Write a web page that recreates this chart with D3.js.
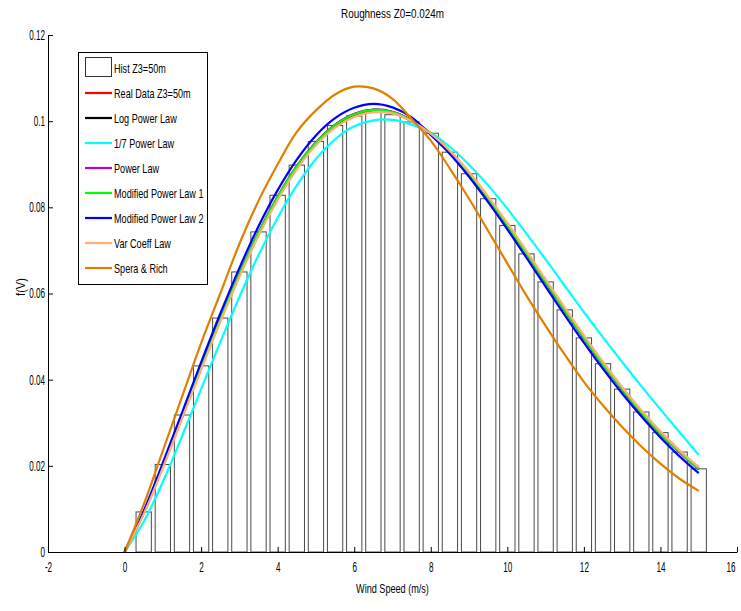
<!DOCTYPE html>
<html><head><meta charset="utf-8">
<script src="https://cdn.jsdelivr.net/npm/d3@7"></script>
<style>
body{margin:0;background:#fff;}
text{font-family:"Liberation Sans Narrow","Arial Narrow","Liberation Sans",Arial,sans-serif;}
</style></head>
<body>
<svg id="chart" width="741" height="611"></svg>
<script>
// ---- data ----
const title = "Roughness Z0=0.024m";
const xLabel = "Wind Speed (m/s)";
const yLabel = "f(V)";
const xTicks = [-2,0,2,4,6,8,10,12,14,16];
const xTickLabels = ["-2","0","2","4","6","8","10","12","14","16"];
const yTicks = [0,0.02,0.04,0.06,0.08,0.1,0.12];
const yTickLabels = ["0","0.02","0.04","0.06","0.08","0.1","0.12"];

const binCenters = [0.5,1,1.5,2,2.5,3,3.5,4,4.5,5,5.5,6,6.5,7,7.5,8,8.5,9,9.5,10,10.5,11,11.5,12,12.5,13,13.5,14,14.5,15];
const histValues = [0.0093,0.0203,0.0318,0.0432,0.0543,0.0650,0.0743,0.0828,0.0898,0.0953,0.0990,0.1012,0.1020,0.1015,0.0998,0.0972,0.0928,0.0878,0.0820,0.0758,0.0692,0.0627,0.0562,0.0497,0.0437,0.0378,0.0325,0.0277,0.0232,0.0193];

const speeds = [0,0.5,1,1.5,2,2.5,3,3.5,4,4.5,5,5.5,6,6.5,7,7.5,8,8.5,9,9.5,10,10.5,11,11.5,12,12.5,13,13.5,14,14.5,15];
const realData   = [0,0.0090,0.0198,0.0312,0.0427,0.0538,0.0642,0.0738,0.0821,0.0892,0.0948,0.0989,0.1014,0.1024,0.1019,0.1000,0.0970,0.0928,0.0878,0.0821,0.0759,0.0694,0.0628,0.0562,0.0498,0.0436,0.0379,0.0325,0.0276,0.0233,0.0194];
const logPower   = [0,0.0091,0.0199,0.0313,0.0428,0.0539,0.0644,0.0740,0.0823,0.0894,0.0950,0.0991,0.1016,0.1026,0.1021,0.1002,0.0971,0.0929,0.0878,0.0820,0.0758,0.0693,0.0627,0.0561,0.0497,0.0435,0.0378,0.0324,0.0275,0.0232,0.0193];
const seventhPower = [0,0.0070,0.0163,0.0268,0.0378,0.0487,0.0592,0.0689,0.0776,0.0851,0.0912,0.0958,0.0988,0.1002,0.1003,0.0992,0.0973,0.0940,0.0899,0.0851,0.0797,0.0739,0.0679,0.0618,0.0557,0.0498,0.0441,0.0385,0.0331,0.0278,0.0225];
const powerLaw   = [0,0.0092,0.0200,0.0315,0.0430,0.0541,0.0646,0.0742,0.0825,0.0896,0.0951,0.0992,0.1017,0.1027,0.1022,0.1002,0.0971,0.0928,0.0877,0.0819,0.0757,0.0692,0.0626,0.0560,0.0496,0.0434,0.0377,0.0323,0.0274,0.0231,0.0192];
const modPower1  = [0,0.0091,0.0199,0.0314,0.0429,0.0540,0.0645,0.0741,0.0824,0.0895,0.0950,0.0991,0.1016,0.1026,0.1021,0.1001,0.0971,0.0929,0.0878,0.0820,0.0758,0.0693,0.0627,0.0561,0.0497,0.0435,0.0378,0.0324,0.0275,0.0232,0.0193];
const modPower2  = [0,0.0095,0.0207,0.0323,0.0440,0.0553,0.0659,0.0756,0.0840,0.0911,0.0967,0.1007,0.1031,0.1040,0.1032,0.1009,0.0968,0.0924,0.0871,0.0812,0.0749,0.0683,0.0616,0.0550,0.0486,0.0425,0.0368,0.0315,0.0266,0.0222,0.0183];
const varCoeff   = [0,0.0088,0.0195,0.0309,0.0423,0.0534,0.0638,0.0734,0.0817,0.0888,0.0944,0.0985,0.1010,0.1021,0.1018,0.1000,0.0971,0.0931,0.0882,0.0825,0.0764,0.0699,0.0633,0.0567,0.0503,0.0441,0.0383,0.0329,0.0280,0.0236,0.0197];
const speraRich  = [0,0.0110,0.0235,0.0360,0.0485,0.0600,0.0715,0.0815,0.0900,0.0975,0.1025,0.1062,0.1080,0.1076,0.1052,0.1005,0.0955,0.0890,0.0820,0.0745,0.0670,0.0595,0.0525,0.0458,0.0395,0.0340,0.0290,0.0245,0.0205,0.0170,0.0142];

const seriesNames = ["Real Data Z3=50m","Log Power Law","1/7 Power Law","Power Law","Modified Power Law 1","Modified Power Law 2","Var Coeff Law","Spera & Rich"];
const seriesValues = [realData,logPower,seventhPower,powerLaw,modPower1,modPower2,varCoeff,speraRich];
const seriesColors = ["#ff0000","#000000","#00ffff","#bf00bf","#00ff00","#0000ff","#ffb070","#e08000"];
const histName = "Hist Z3=50m";

// ---- chart ----
const svg = d3.select("#chart");
const m = {left:48, right:4, top:35, bottom:59};
const W = 741, H = 611;
const x = d3.scaleLinear().domain([-2,16]).range([m.left, W - m.right]);
const y = d3.scaleLinear().domain([0,0.12]).range([H - m.bottom, m.top]);

// condensed-looking text: squeeze glyphs horizontally
function condense(sel, f){
  sel.each(function(){
    const w = this.getComputedTextLength();
    d3.select(this).attr("textLength", w*f).attr("lengthAdjust","spacingAndGlyphs");
  });
}

// histogram bars (width 0.8 of bin spacing 0.5)
const barW = 0.4;
svg.append("g").selectAll("rect").data(binCenters).join("rect")
  .attr("x", (d)=>x(d - barW/2))
  .attr("y", (d,i)=>y(histValues[i]))
  .attr("width", x(barW) - x(0))
  .attr("height", (d,i)=>y(0) - y(histValues[i]))
  .attr("fill","none").attr("stroke","#4a4a4a").attr("stroke-width",1);

// curves
const line = d3.line().x((d)=>x(d[0])).y((d)=>y(d[1])).curve(d3.curveCatmullRom);
seriesValues.forEach((vals,i)=>{
  svg.append("path").datum(speeds.map((s,j)=>[s,vals[j]]))
    .attr("d", line).attr("fill","none")
    .attr("stroke", seriesColors[i]).attr("stroke-width", 2.2)
    .attr("stroke-linejoin","round");
});

// axes
const xAxis = d3.axisBottom(x).tickValues(xTicks).tickFormat((d,i)=>xTickLabels[i]).tickSizeInner(-5).tickSizeOuter(0).tickPadding(10);
const gx = svg.append("g").attr("transform",`translate(0,${y(0)})`).call(xAxis);
const yAxis = d3.axisLeft(y).tickValues(yTicks).tickFormat((d,i)=>yTickLabels[i]).tickSizeInner(-5).tickSizeOuter(0).tickPadding(3);
const gy = svg.append("g").attr("transform",`translate(${x(-2)},0)`).call(yAxis);
[gx,gy].forEach(g=>{
  g.selectAll("text").style("font-size","14px").attr("fill","#000");
  g.selectAll("line").attr("stroke","#000");
  g.select(".domain").attr("stroke","#000");
  condense(g.selectAll("text"), 0.58);
});
// keep the last x label inside the picture
gx.selectAll(".tick text").filter((d)=>d===16).attr("text-anchor","end").attr("dx","-2");

// titles
const tt = svg.append("text").attr("x", (x(-2)+x(16))/2).attr("y", 18).attr("text-anchor","middle").style("font-size","13px").text(title);
condense(tt, 0.76);
const xl = svg.append("text").attr("x", (x(-2)+x(16))/2).attr("y", 593).attr("text-anchor","middle").style("font-size","13px").text(xLabel);
condense(xl, 0.7);
const yl = svg.append("text").attr("transform","translate(25,287) rotate(-90)").attr("text-anchor","middle").style("font-size","13px").text(yLabel);
condense(yl, 0.85);

// legend
const lg = svg.append("g");
lg.append("rect").attr("x",78.5).attr("y",52.5).attr("width",129).attr("height",232).attr("fill","#fff").attr("stroke","#000");
const rowY = (i)=>68 + i*25;
lg.append("rect").attr("x",85.5).attr("y",57.5).attr("width",26).attr("height",19).attr("fill","none").attr("stroke","#333");
const texts = [histName].concat(seriesNames);
seriesNames.forEach((n,i)=>{
  const yy = rowY(i+1);
  lg.append("line").attr("x1",85).attr("x2",112).attr("y1",yy).attr("y2",yy).attr("stroke",seriesColors[i]).attr("stroke-width",2.2);
});
const lt = lg.selectAll("text.lab").data(texts).join("text").attr("class","lab")
  .attr("x",114).attr("y",(d,i)=>rowY(i)+4.5).style("font-size","13px").text((d)=>d);
condense(lt, 0.7);
</script>
</body></html>
